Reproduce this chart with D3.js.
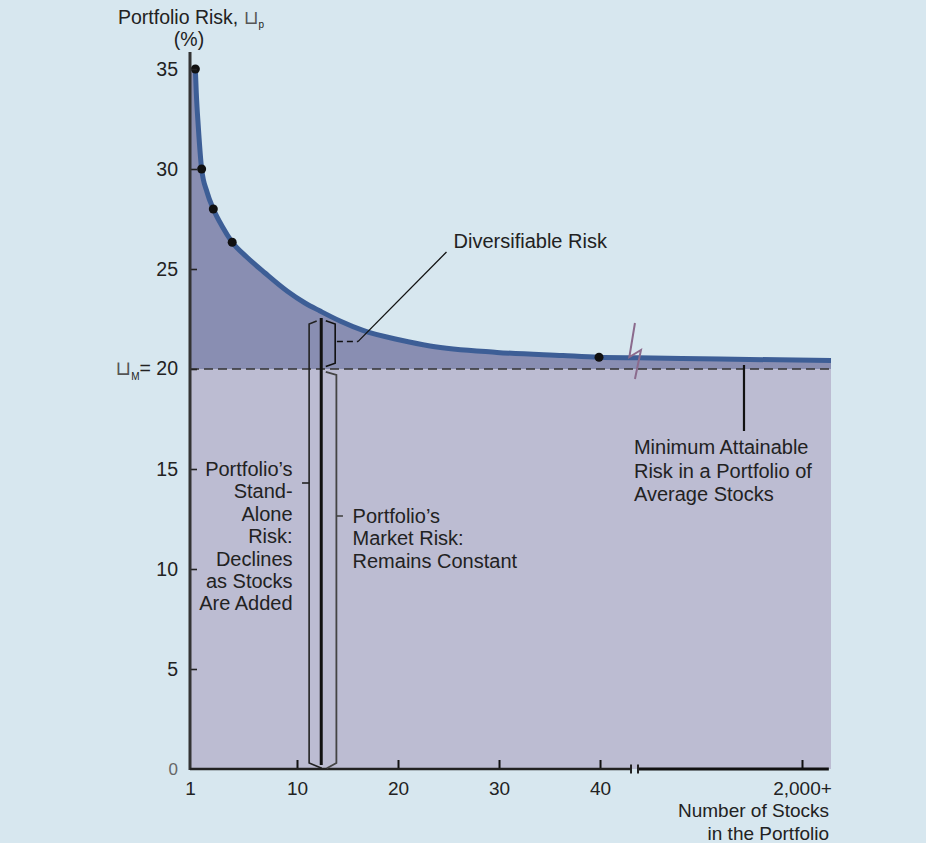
<!DOCTYPE html>
<html><head><meta charset="utf-8">
<script src="https://cdn.jsdelivr.net/npm/d3@7"></script>
<style>
html,body{margin:0;padding:0;background:#d7e7ef;}
svg{display:block;font-family:"Liberation Sans",Arial,Helvetica,sans-serif;}
</style></head><body>
<svg id="c" width="926" height="843"></svg>
<script>
// ---- data ----
const yTicks = [0, 5, 10, 15, 20, 25, 30, 35];
const xTicks = [1, 10, 20, 30, 40, 2000];
const xTickLabels = ["1", "10", "20", "30", "40", "2,000+"];
const curveStocks = [1.45, 1.53, 1.70, 1.98, 2.43, 2.96, 3.69, 4.55, 5.77, 7.31, 9.16, 10.79, 12.28, 14.26, 16.53, 20.2, 23.17, 29.8, 36.34, 39.9, 43.76, 1022, 2335];
const curveRisk   = [35.0, 33.8, 32.1, 30.0, 28.85, 28.0, 27.15, 26.34, 25.6, 24.8, 23.9, 23.3, 22.9, 22.4, 21.93, 21.45, 21.15, 20.83, 20.67, 20.59, 20.56, 20.5, 20.42];
const dotStocks = [1.45, 1.98, 2.96, 4.55, 39.9];
const dotRisk   = [35, 30, 28, 26.34, 20.59];
const marketRisk = 20;
const xMin = 1, xMax = 2335, axisBreakLeft = 43.07, axisBreakRight = 43.76, axisEnd = 2310, curveBreak = 43.3;
const standAloneLines = ["Portfolio\u2019s", "Stand-", "Alone", "Risk:", "Declines", "as Stocks", "Are Added"];
const marketLines = ["Portfolio\u2019s", "Market Risk:", "Remains Constant"];
const minimumLines = ["Minimum Attainable", "Risk in a Portfolio of", "Average Stocks"];
const diversifiableLabel = "Diversifiable Risk";

// ---- scales ----
const xs = d3.scaleLinear().domain([1, 10, 43.76, 2000, 2335]).range([190, 297, 638, 802, 831]);
const ys = d3.scaleLinear().domain([0, 35]).range([769, 69]);

const svg = d3.select("#c");
svg.append("rect").attr("width", 926).attr("height", 843).attr("fill", "#d7e7ef");

const curve = curveStocks.map((s, i) => [s, curveRisk[i]]);
const areaData = [[xMin, curveRisk[0]]].concat(curve);

// market-risk region
svg.append("rect")
  .attr("x", xs(xMin)).attr("y", ys(marketRisk))
  .attr("width", xs(xMax) - xs(xMin)).attr("height", ys(0) - ys(marketRisk))
  .attr("fill", "#bcbcd2");

// diversifiable region
svg.append("path").datum(areaData)
  .attr("d", d3.area().x(d => xs(d[0])).y0(ys(marketRisk)).y1(d => ys(d[1])).curve(d3.curveMonotoneX))
  .attr("fill", "#898eb2");

// dashed market line
svg.append("line")
  .attr("x1", xs(xMin)).attr("x2", xs(xMax))
  .attr("y1", ys(marketRisk)).attr("y2", ys(marketRisk))
  .attr("stroke", "#333").attr("stroke-width", 1.5).attr("stroke-dasharray", "9,5");

// curve
svg.append("path").datum(curve)
  .attr("d", d3.line().x(d => xs(d[0])).y(d => ys(d[1])).curve(d3.curveMonotoneX))
  .attr("fill", "none").attr("stroke", "#3d5e96").attr("stroke-width", 5);

// break on curve
const bx = xs(curveBreak);
svg.append("path")
  .attr("d", d3.line()([[bx + 1.6, ys(22.3)], [bx - 4, ys(20.6)], [bx + 7.6, ys(20.95)], [bx + 1.6, ys(19.5)]]))
  .attr("fill", "none").attr("stroke", "#8b6b8d").attr("stroke-width", 2);

// dots
svg.selectAll("circle.dot").data(dotStocks).join("circle")
  .attr("cx", d => xs(d)).attr("cy", (d, i) => ys(dotRisk[i])).attr("r", 4.5).attr("fill", "#111");

// ---- y axis ----
const yAxis = svg.append("g").attr("transform", `translate(${xs(xMin)},0)`)
  .call(d3.axisLeft(ys).tickValues(yTicks).tickSize(-7).tickPadding(12).tickFormat(d => d === 20 ? "" : d));
yAxis.select(".domain").remove();
yAxis.selectAll(".tick line").attr("stroke", "#222").attr("stroke-width", 1.6)
  .filter(d => d === 0).remove();
yAxis.selectAll(".tick text").attr("font-size", 19.5).attr("fill", "#222").attr("font-family", "Liberation Sans, Arial, sans-serif");
yAxis.selectAll(".tick text").filter(d => d === 0).attr("font-size", 17).attr("fill", "#666");
const t20 = yAxis.append("text").attr("x", -12).attr("y", ys(20)).attr("dy", "0.32em")
  .attr("text-anchor", "end").attr("fill", "#222").attr("font-size", 19.5);
t20.append("tspan").attr("font-family", "DejaVu Sans").attr("font-size", 20).attr("fill", "#555").text("\u2294");
t20.append("tspan").attr("font-size", 10).attr("dy", 5).text("M");
t20.append("tspan").attr("dy", -5).text("= 20");

svg.append("line").attr("x1", xs(xMin)).attr("x2", xs(xMin)).attr("y1", ys(0) + 1).attr("y2", ys(35.85))
  .attr("stroke", "#333").attr("stroke-width", 3);

// ---- x axis ----
const xAxis = svg.append("g").attr("transform", `translate(0,${ys(0)})`)
  .call(d3.axisBottom(xs).tickValues(xTicks).tickSize(-9).tickPadding(13).tickFormat((d, i) => xTickLabels[i]));
xAxis.select(".domain").remove();
xAxis.selectAll(".tick line").attr("stroke", "#111").attr("stroke-width", 2).filter(d => d === 1).remove();
xAxis.selectAll(".tick text").attr("font-size", 19).attr("fill", "#222").attr("font-family", "Liberation Sans, Arial, sans-serif");
svg.append("line").attr("x1", xs(xMin)).attr("x2", xs(axisBreakLeft)).attr("y1", ys(0)).attr("y2", ys(0))
  .attr("stroke", "#222").attr("stroke-width", 2.5);
svg.append("line").attr("x1", xs(axisBreakRight)).attr("x2", xs(axisEnd)).attr("y1", ys(0)).attr("y2", ys(0))
  .attr("stroke", "#111").attr("stroke-width", 3);
[axisBreakLeft, axisBreakRight].forEach(v => {
  svg.append("line").attr("x1", xs(v)).attr("x2", xs(v)).attr("y1", ys(0) - 4.5).attr("y2", ys(0) + 4.5)
    .attr("stroke", "#222").attr("stroke-width", 2);
});

// axis titles
const yt = svg.append("text").attr("x", 191).attr("y", 24).attr("text-anchor", "middle")
  .attr("font-size", 19.5).attr("fill", "#222");
yt.append("tspan").text("Portfolio Risk, ");
yt.append("tspan").attr("font-family", "DejaVu Sans").attr("font-size", 19).attr("fill", "#555").text("\u2294");
yt.append("tspan").attr("font-size", 10).attr("dy", 4).text("p");
svg.append("text").attr("x", 189).attr("y", 46).attr("text-anchor", "middle")
  .attr("font-size", 19.5).attr("fill", "#222").text("(%)");
svg.append("text").attr("x", xs(xMax) - 2).attr("y", 817).attr("text-anchor", "end")
  .attr("font-size", 19).attr("fill", "#222").text("Number of Stocks");
svg.append("text").attr("x", xs(xMax) - 2).attr("y", 840).attr("text-anchor", "end")
  .attr("font-size", 19).attr("fill", "#222").text("in the Portfolio");

// ---- braces and annotations ----
const ln = d3.line().x(d => xs(d[0])).y(d => ys(d[1]));
const stroke = (p, w, c) => p.attr("fill", "none").attr("stroke", c || "#222").attr("stroke-width", w);

// thick line
stroke(svg.append("path").attr("d", ln([[12.4, 22.55], [12.4, 0.2]])), 3, "#111");
// stand-alone brace (left)
stroke(svg.append("path").attr("d", ln([[11.95, 22.4], [11.2, 22.25], [11.2, 0.3], [12.45, 0.04]])), 1.6);
stroke(svg.append("path").attr("d", ln([[10.5, 14.3], [11.2, 14.3]])), 1.6);
// market brace (right)
stroke(svg.append("path").attr("d", ln([[12.85, 19.86], [13.9, 19.7], [13.9, 0.3], [12.95, 0.04]])), 1.8, "#444");
stroke(svg.append("path").attr("d", ln([[13.9, 12.65], [14.55, 12.65]])), 1.6, "#444");
// diversifiable bracket
stroke(svg.append("path").attr("d", ln([[12.85, 22.41], [13.78, 22.25], [13.78, 20.29], [12.85, 20.12]])), 1.6, "#111");
stroke(svg.append("path").attr("d", ln([[13.95, 21.37], [16.03, 21.37]])), 1.5, "#111").attr("stroke-dasharray", "6,4");
stroke(svg.append("path").attr("d", ln([[16.03, 21.37], [24.8, 25.85]])), 1.3, "#111");
// minimum leader
stroke(svg.append("path").attr("d", ln([[1308, 20.2], [1308, 16.9]])), 2.2, "#111");

const lineH = 22.4;
const multi = (lines, x, y, anchor, lh) => {
  const t = svg.append("text").attr("font-size", 20).attr("fill", "#222").attr("text-anchor", anchor);
  lines.forEach((s, i) => t.append("tspan").attr("x", x).attr("y", y + i * lh).text(s));
};
multi(standAloneLines, xs(9.63), ys(14.65), "end", lineH);
multi(marketLines, xs(15.5), ys(12.3), "start", lineH);
multi(minimumLines, xs(43.36), ys(15.75), "start", 23.5);
multi([diversifiableLabel], xs(25.5), ys(26.05), "start", lineH);
</script>
</body></html>
